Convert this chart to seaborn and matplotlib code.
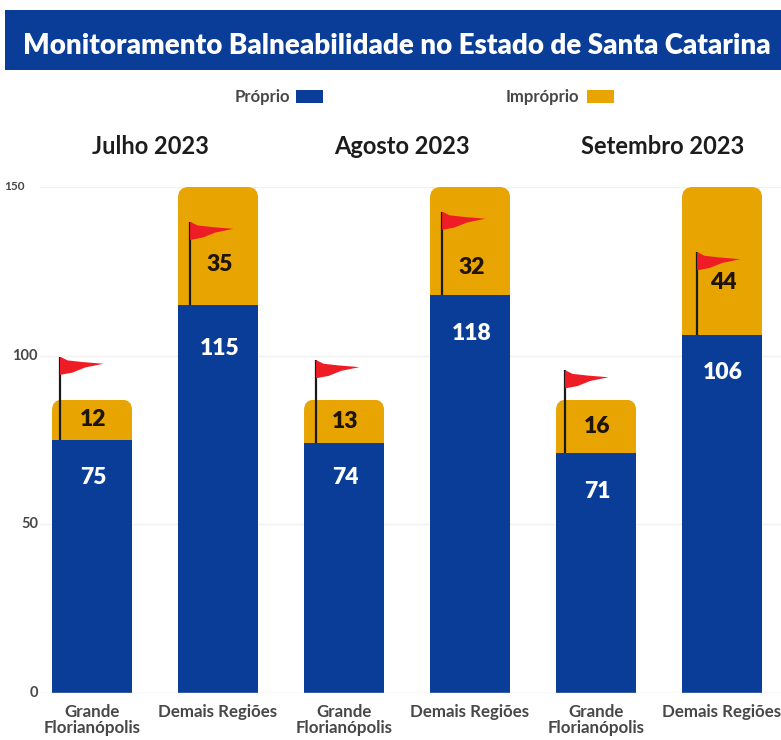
import matplotlib
matplotlib.use('Agg')
import matplotlib.pyplot as plt
import pandas as pd
import seaborn as sns
from matplotlib.patches import FancyBboxPatch, Polygon, Rectangle

meses = ['Julho 2023', 'Agosto 2023', 'Setembro 2023']
regioes = ['Grande\nFlorianópolis', 'Demais Regiões'] * 3
proprio = [75, 115, 74, 118, 71, 106]
improprio = [12, 35, 13, 32, 16, 44]

AZUL = '#0a3d97'
LARANJA = '#e8a502'
CINZA = '#474747'
FONTE = 'Lato'

sns.set_theme(style='white')
plt.rcParams['font.family'] = FONTE

df = pd.DataFrame({'pos': range(6), 'proprio': proprio, 'improprio': improprio})
df['total'] = df['proprio'] + df['improprio']

fig = plt.figure(figsize=(7.81, 7.40), dpi=100, facecolor='white')
W, H = 781, 740
ax = fig.add_axes([40 / W, 1 - 693 / H, (W - 40) / W, 506 / H])

# orange behind, blue on top
sns.barplot(data=df, x='pos', y='total', color=LARANJA, saturation=1, width=0.635, linewidth=0, ax=ax)
n_orange = len(ax.patches)
sns.barplot(data=df, x='pos', y='proprio', color=AZUL, saturation=1, width=0.635, linewidth=0, ax=ax)

ax.set_xlim(-0.413, 5.468)
ax.set_ylim(0, 150)
ax.set_xlabel('')
ax.set_ylabel('')
ax.set_yticks([0, 50, 100, 150])
ax.set_axisbelow(True)
ax.grid(axis='y', color='#f1f1f1', lw=1)
ax.set_xticks(range(6))
ax.set_xticklabels(regioes, fontsize=12.2, fontweight='bold', color=CINZA, linespacing=1.0, va='top')
ax.set_yticklabels([])
ax.tick_params(axis='both', length=0, pad=8)
sns.despine(ax=ax, left=True, bottom=True, top=True, right=True)
ax.axhline(0, color='#e6e6e6', lw=1, zorder=1)

# round the top corners of the orange bars
for bar in ax.patches[:n_orange]:
    caixa = FancyBboxPatch((bar.get_x(), 0), bar.get_width(), bar.get_height(),
                           boxstyle='round,pad=0,rounding_size=0.085', mutation_aspect=37,
                           transform=ax.transData)
    bar.set_clip_path(caixa)

# label offsets, the numbers are not quite centred in the source
desc_azul = [11, 13, 10, 11.3, 11.3, 11]
desc_laranja = [0, 5.5, 0, 7.8, 0, 6.3]
for i, (p, m) in enumerate(zip(proprio, improprio)):
    ax.text(i + 0.01, p - desc_azul[i], str(p), color='white', fontsize=16.5, fontweight='heavy',
            ha='center', va='center')
    ax.text(i + 0.01, p + m / 2 - desc_laranja[i], str(m), color='#1e1408', fontsize=16.5, fontweight='heavy',
            ha='center', va='center', zorder=6)

# flags, pole starts where the blue ends
desloc = [-0.254, -0.222, -0.222, -0.222, -0.246, -0.198]
for i, p in enumerate(proprio):
    x = i + desloc[i]
    ax.plot([x, x], [p, p + 24.7], color='#1a1a1a', lw=1.6, zorder=5, solid_capstyle='butt')
    ax.add_patch(Polygon([(x, p + 24.7), (x + 0.06, p + 23.6), (x + 0.18, p + 23.1), (x + 0.345, p + 22.6),
                          (x + 0.2, p + 21.5), (x + 0.1, p + 20), (x, p + 19.3)],
                         closed=True, color='#ee1c25', lw=0, zorder=5))

# banner, legend and month headings sit on the figure
fig.add_artist(Rectangle((5 / W, 1 - 70 / H), (W - 5) / W, 60 / H, transform=fig.transFigure, color=AZUL, lw=0))
fig.text(397 / W, 1 - 46 / H, 'Monitoramento Balneabilidade no Estado de Santa Catarina',
         color='white', fontsize=20, fontweight='heavy', ha='center', va='center')
fig.text(290 / W, 1 - 97 / H, 'Próprio', color=CINZA, fontsize=12, fontweight='bold', ha='right', va='center')
fig.add_artist(Rectangle((296 / W, 1 - 103 / H), 27 / W, 13 / H, transform=fig.transFigure, color=AZUL, lw=0))
fig.text(579 / W, 1 - 97 / H, 'Impróprio', color=CINZA, fontsize=12, fontweight='bold', ha='right', va='center')
fig.add_artist(Rectangle((587 / W, 1 - 103 / H), 27 / W, 13 / H, transform=fig.transFigure, color=LARANJA, lw=0))
for mes, xm in zip(meses, [150, 402, 663]):
    fig.text(xm / W, 1 - 146 / H, mes, color='#1c1c1c', fontsize=17, fontweight='bold', ha='center', va='center')

for val, xr, fs in zip([150, 100, 50, 0], [25, 38, 38, 38], [8.5, 10.5, 10.5, 10.5]):
    ax.annotate(str(val), (xr / W, val), xycoords=('figure fraction', 'data'), ha='right', va='center',
                fontsize=fs, fontweight='bold', color=CINZA, annotation_clip=False)

fig.savefig('out.png', dpi=100)
